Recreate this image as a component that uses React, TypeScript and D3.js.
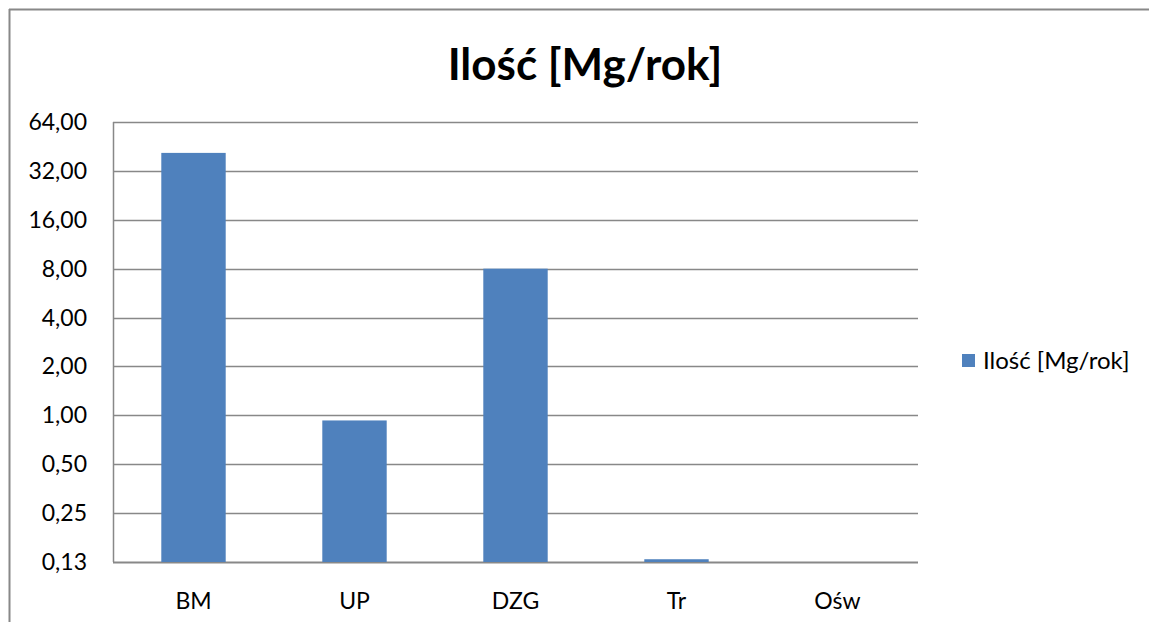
import React from "react";
import * as d3 from "d3";

const categories = ["BM", "UP", "DZG", "Tr", "Ośw"];
const values = [41.3, 0.93, 8.0, 0.13, 0.1];
const tickValues = [0.125, 0.25, 0.5, 1, 2, 4, 8, 16, 32, 64];
const seriesName = "Ilość [Mg/rok]";
const title = "Ilość [Mg/rok]";

const W = 1149;
const H = 622;
const plot = { left: 113, right: 918, top: 122, bottom: 562 };
const font = "Lato, 'Open Sans', sans-serif";
const barColor = "#4F81BD";

const App = () => {
  const x = d3
    .scaleBand()
    .domain(categories)
    .range([plot.left, plot.right])
    .paddingInner(0.6)
    .paddingOuter(0.3);

  const y = d3
    .scaleLog()
    .base(2)
    .domain([0.125, 64])
    .range([plot.bottom, plot.top]);

  const fmt = d => d3.format(".2f")(d).replace(".", ",");

  return (
    <svg
      width={W}
      height={H}
      style={{ position: "absolute", left: 0, top: 0, background: "#fff" }}
    >
      {/* outer frame */}
      <line x1={9} y1={9.5} x2={W} y2={9.5} stroke="#888" strokeWidth={2} />
      <line x1={9.5} y1={9} x2={9.5} y2={H} stroke="#888" strokeWidth={2} />

      <text
        x={585}
        y={80}
        textAnchor="middle"
        fontFamily={font}
        fontWeight="bold"
        fontSize={44}
        fill="#000"
      >
        {title}
      </text>

      {/* grid */}
      {tickValues.map(t => (
        <line
          key={t}
          x1={plot.left}
          x2={plot.right}
          y1={Math.round(y(t)) + 0.5}
          y2={Math.round(y(t)) + 0.5}
          stroke="#888"
          strokeWidth={t === 0.125 ? 2 : 1.3}
        />
      ))}
      <line
        x1={plot.left + 0.5}
        x2={plot.left + 0.5}
        y1={plot.top}
        y2={plot.bottom}
        stroke="#888"
        strokeWidth={1.5}
      />

      {/* y labels */}
      {tickValues.map(t => (
        <text
          key={"l" + t}
          x={87}
          y={y(t) + 8}
          textAnchor="end"
          fontFamily={font}
          fontSize={23}
          fill="#000"
        >
          {fmt(t)}
        </text>
      ))}

      {/* bars */}
      {categories.map((c, i) => {
        const top = y(values[i]);
        const h = Math.max(0, plot.bottom - top);
        return (
          <rect
            key={c}
            x={x(c)}
            y={plot.bottom - h}
            width={x.bandwidth()}
            height={h}
            fill={barColor}
          />
        );
      })}

      {/* x labels */}
      {categories.map(c => (
        <text
          key={"x" + c}
          x={x(c) + x.bandwidth() / 2}
          y={609}
          textAnchor="middle"
          fontFamily={font}
          fontSize={23}
          fill="#000"
        >
          {c}
        </text>
      ))}

      {/* legend */}
      <rect x={962} y={354} width={13} height={13} fill={barColor} />
      <text x={983} y={369} fontFamily={font} fontSize={24} fill="#000">
        {seriesName}
      </text>
    </svg>
  );
};

export default App;
